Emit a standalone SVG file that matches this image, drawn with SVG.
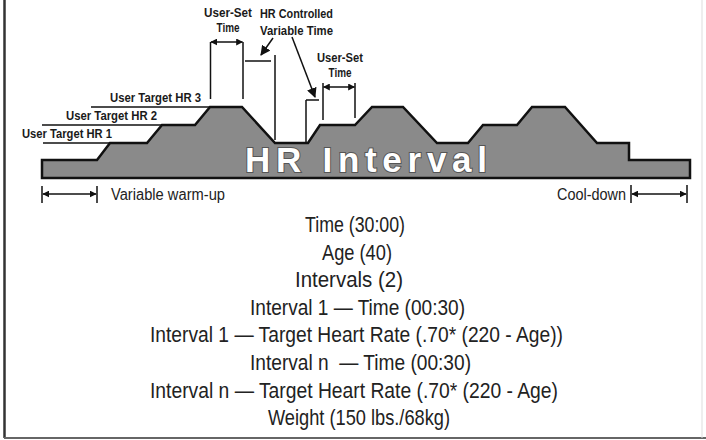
<svg xmlns="http://www.w3.org/2000/svg" width="706" height="440" viewBox="0 0 706 440">
<defs>
<marker id="ah" viewBox="0 0 10 10" refX="9" refY="5" markerWidth="7" markerHeight="7" markerUnits="userSpaceOnUse" orient="auto-start-reverse">
<path d="M0,0 L10,5 L0,10 Z" fill="#111"/>
</marker>
<marker id="ahb" viewBox="0 0 10 10" refX="9" refY="5" markerWidth="10" markerHeight="10" markerUnits="userSpaceOnUse" orient="auto">
<path d="M0,0 L10,5 L0,10 Z" fill="#111"/>
</marker>
</defs>
<style>
.lbl{font-family:"Liberation Sans Narrow","Liberation Sans",Arial,sans-serif;font-weight:bold;font-size:12px;fill:#1a1a1a}
.ctr{font-family:"Liberation Sans Narrow","Liberation Sans",Arial,sans-serif;font-size:22px;fill:#222}
.dim{font-family:"Liberation Sans Narrow","Liberation Sans",Arial,sans-serif;font-size:16px;fill:#222}
.ln{stroke:#111;stroke-width:1.5;fill:none}
.ar{stroke:#111;stroke-width:1.5;fill:none;marker-start:url(#ah);marker-end:url(#ah)}
.big{font-family:"Liberation Sans",Arial,sans-serif;font-weight:bold;font-size:35px;fill:#fff;stroke:#555;stroke-width:2;paint-order:stroke}
</style>
<rect x="0" y="0" width="706" height="440" fill="#fff"/>
<g id="frame">
<line x1="4.5" y1="0" x2="4.5" y2="438" stroke="#333" stroke-width="2.5"/>
<line x1="4" y1="438" x2="706" y2="438" stroke="#666" stroke-width="2"/>
<line x1="702" y1="0" x2="702" y2="438" stroke="#ddd" stroke-width="1"/>
</g>
<g id="profile">
<path d="M42,178 L42,160 L97,160 L110,143 L147,143 L162,125 L195,125 L210,107 L242,107 L275,143 L308,143 L320,125 L355,125 L372,107 L403,107 L437,143 L468,143 L483,125 L517,125 L532,107 L565,107 L597,143 L629,143 L629,160 L690,160 L690,178 Z" fill="#8a8a8a" stroke="#111" stroke-width="2.5" stroke-linejoin="miter"/>
<text class="big" x="245" y="172" textLength="242" lengthAdjust="spacing">HR Interval</text>
</g>
<g id="hr-levels">
<text class="lbl" x="22" y="138" textLength="90" lengthAdjust="spacingAndGlyphs">User Target HR 1</text>
<text class="lbl" x="66" y="120" textLength="91" lengthAdjust="spacingAndGlyphs">User Target HR 2</text>
<text class="lbl" x="110" y="102" textLength="91" lengthAdjust="spacingAndGlyphs">User Target HR 3</text>
</g>
<g id="user-set-1">
<text class="lbl" x="228" y="17" text-anchor="middle" textLength="48" lengthAdjust="spacingAndGlyphs">User-Set</text>
<text class="lbl" x="228" y="32" text-anchor="middle" textLength="23" lengthAdjust="spacingAndGlyphs">Time</text>
</g>
<g id="hr-controlled">
<text class="lbl" x="260" y="18" textLength="73" lengthAdjust="spacingAndGlyphs">HR Controlled</text>
<text class="lbl" x="260" y="35" textLength="73" lengthAdjust="spacingAndGlyphs">Variable Time</text>
</g>
<g id="user-set-2">
<text class="lbl" x="340" y="62" text-anchor="middle" textLength="46" lengthAdjust="spacingAndGlyphs">User-Set</text>
<text class="lbl" x="340" y="77" text-anchor="middle" textLength="23" lengthAdjust="spacingAndGlyphs">Time</text>
</g>
<g id="warm-up">
<text class="dim" x="111" y="200" textLength="114" lengthAdjust="spacingAndGlyphs">Variable warm-up</text>
</g>
<g id="cool-down">
<text class="dim" x="557" y="200" textLength="69" lengthAdjust="spacingAndGlyphs">Cool-down</text>
</g>
<g id="settings">
<text class="ctr" x="305" y="232" textLength="100" lengthAdjust="spacingAndGlyphs">Time (30:00)</text>
<text class="ctr" x="322" y="260" textLength="70" lengthAdjust="spacingAndGlyphs">Age (40)</text>
<text class="ctr" x="295" y="287" textLength="108" lengthAdjust="spacingAndGlyphs">Intervals (2)</text>
<text class="ctr" x="250" y="315" textLength="215" lengthAdjust="spacingAndGlyphs">Interval 1 — Time (00:30)</text>
<text class="ctr" x="150" y="342" textLength="413" lengthAdjust="spacingAndGlyphs">Interval 1 — Target Heart Rate (.70* (220 - Age))</text>
<text class="ctr" x="250" y="370" textLength="221" lengthAdjust="spacingAndGlyphs">Interval n &#160;— Time (00:30)</text>
<text class="ctr" x="150" y="398" textLength="408" lengthAdjust="spacingAndGlyphs">Interval n — Target Heart Rate (.70* (220 - Age)</text>
<text class="ctr" x="268" y="425" textLength="182" lengthAdjust="spacingAndGlyphs">Weight (150 lbs./68kg)</text>
</g>
<g id="connectors">
<line class="ln" x1="43" y1="143" x2="110" y2="143"/>
<line class="ln" x1="42" y1="125" x2="162" y2="125"/>
<line class="ln" x1="91" y1="107" x2="210" y2="107"/>
<line class="ln" x1="210.5" y1="42" x2="210.5" y2="99"/>
<line class="ln" x1="243" y1="42" x2="243" y2="99"/>
<line class="ar" x1="211" y1="42" x2="242.5" y2="42"/>
<line class="ln" x1="245" y1="61" x2="271" y2="61"/>
<line class="ln" x1="275" y1="55" x2="275" y2="140"/>
<line class="ln" x1="273" y1="38" x2="261" y2="55" style="marker-end:url(#ahb)"/>
<line class="ln" x1="292" y1="37" x2="315" y2="97" style="marker-end:url(#ahb)"/>
<line class="ln" x1="306" y1="100" x2="319" y2="100"/>
<line class="ln" x1="306" y1="100" x2="306" y2="142"/>
<line class="ln" x1="323" y1="83" x2="323" y2="120"/>
<line class="ln" x1="355" y1="83" x2="355" y2="118"/>
<line class="ar" x1="323.5" y1="87" x2="354.5" y2="87"/>
<line class="ln" x1="42" y1="186" x2="42" y2="203"/>
<line class="ln" x1="97" y1="186" x2="97" y2="203"/>
<line class="ar" x1="43" y1="194" x2="96" y2="194"/>
<line class="ln" x1="631" y1="185" x2="631" y2="203"/>
<line class="ln" x1="687" y1="185" x2="687" y2="203"/>
<line class="ar" x1="632" y1="194" x2="686" y2="194"/>
</g>
</svg>
